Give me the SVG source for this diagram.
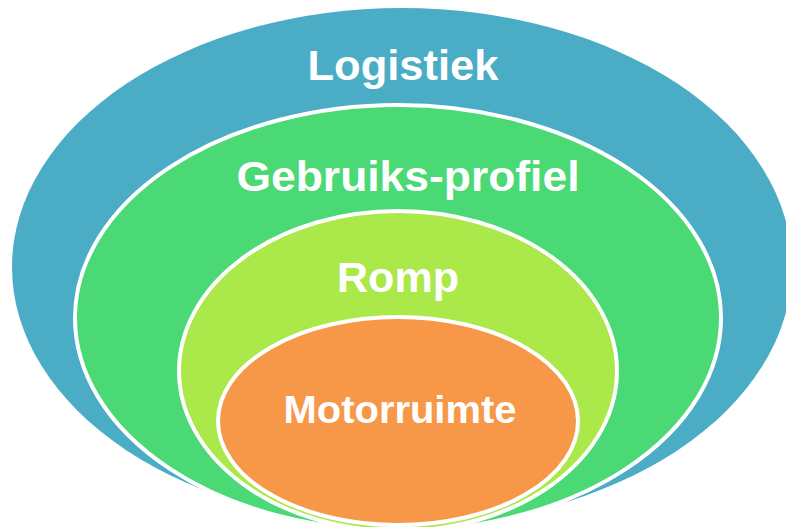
<svg xmlns="http://www.w3.org/2000/svg" width="786" height="527" viewBox="0 0 786 527">
<style>
.lbl{font-family:"Liberation Sans",Arial,sans-serif;font-weight:bold;fill:#ffffff;text-anchor:middle}
.ring{stroke:#ffffff;stroke-width:4}
</style>
<rect width="786" height="527" fill="#ffffff"/>
<g id="logistiek">
<ellipse cx="402" cy="267" rx="390" ry="259" fill="#4BACC6"/>
<text class="lbl" x="403" y="80" font-size="43" textLength="191" lengthAdjust="spacingAndGlyphs">Logistiek</text>
</g>
<g id="gebruiksprofiel">
<ellipse class="ring" cx="398" cy="318" rx="323" ry="213" fill="#4AD975"/>
<text class="lbl" x="408" y="191" font-size="43" textLength="343" lengthAdjust="spacingAndGlyphs">Gebruiks-profiel</text>
</g>
<g id="romp">
<ellipse class="ring" cx="398" cy="371" rx="219" ry="160" fill="#ABE84A"/>
<text class="lbl" x="398" y="292" font-size="42" textLength="122" lengthAdjust="spacingAndGlyphs">Romp</text>
</g>
<g id="motorruimte">
<ellipse class="ring" cx="398" cy="421" rx="180" ry="104" fill="#F79748"/>
<text class="lbl" x="400" y="423" font-size="38" textLength="233" lengthAdjust="spacingAndGlyphs">Motorruimte</text>
</g>
<g id="connectors"/>
</svg>
